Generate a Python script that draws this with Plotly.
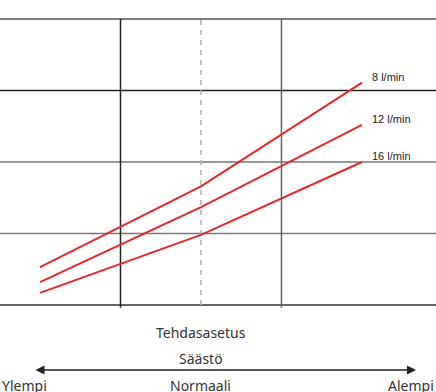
import plotly.graph_objects as go

# Data
x_pos = [0, 2, 4]
series_names = ["8 l/min", "12 l/min", "16 l/min"]
flow_8 = [0.53, 1.66, 3.11]
flow_12 = [0.32, 1.37, 2.52]
flow_16 = [0.17, 0.98, 2.0]
y_grid = [0, 1, 2, 3, 4]
x_grid_solid = [1, 3]
x_grid_dashed = [2]
Y_MAX = 4

RED = "#e8262a"
fig = go.Figure()
for name, vals in zip(series_names, [flow_8, flow_12, flow_16]):
    fig.add_trace(go.Scatter(x=x_pos, y=vals, mode="lines", name=name,
                             line=dict(color=RED, width=2), showlegend=False,
                             hoverinfo="skip"))
    fig.add_annotation(x=x_pos[-1], y=vals[-1], text=name, showarrow=False,
                       xanchor="left", yanchor="bottom", xshift=8, yshift=-2,
                       font=dict(family="Liberation Sans, Arial", size=11, color="#222"))

shapes = []
hcolors = {0: "#333333", 1: "#777777", 2: "#777777", 3: "#222222", 4: "#555555"}
for g in y_grid:
    shapes.append(dict(type="line", xref="paper", yref="paper", x0=0, x1=1,
                       y0=g / Y_MAX, y1=g / Y_MAX,
                       line=dict(color=hcolors[g], width=1.5), layer="below"))
for i, g in enumerate(x_grid_solid):
    shapes.append(dict(type="line", xref="x", yref="paper", x0=g, x1=g, y0=-0.01, y1=1,
                       line=dict(color="#222222" if i == 0 else "#666666", width=1.5), layer="below"))
for g in x_grid_dashed:
    shapes.append(dict(type="line", xref="x", yref="paper", x0=g, x1=g, y0=0, y1=1,
                       line=dict(color="#b0b0b0", width=1.5, dash="5px,5px"), layer="below"))

BFONT = dict(family="Noto Sans, Open Sans", size=14, color="#333")
anns = [
    dict(x=2, y=-0.096, xref="x", yref="paper", text="Tehdasasetus", xanchor="center"),
    dict(x=2, y=-0.187, xref="x", yref="paper", text="Säästö", xanchor="center"),
    dict(x=0, y=-0.281, xref="paper", yref="paper", text="Ylempi", xanchor="left"),
    dict(x=2, y=-0.281, xref="x", yref="paper", text="Normaali", xanchor="center"),
    dict(x=1, y=-0.281, xref="paper", yref="paper", text="Alempi", xanchor="right"),
]
for a in anns:
    fig.add_annotation(**a, showarrow=False, yanchor="middle", font=BFONT)
fig.add_annotation(x=416/436, y=-0.2276, xref="paper", yref="paper", text="", showarrow=True,
                   ax=-382, ay=0, arrowhead=2, arrowsize=1.2, arrowwidth=1.5, arrowcolor="#222",
                   arrowside="end+start", standoff=0, startstandoff=0)

fig.update_layout(
    width=436, height=392,
    margin=dict(l=0, r=0, t=19, b=86.5),
    paper_bgcolor="white", plot_bgcolor="white",
    xaxis=dict(range=[-0.497, 4.92], showgrid=False, zeroline=False, showticklabels=False, visible=False),
    yaxis=dict(range=[0, Y_MAX], showgrid=False, zeroline=False, showticklabels=False, visible=False),
    shapes=shapes,
)
fig.write_html("out.html", config={"displayModeBar": False},
               post_script="document.body.style.margin='0';document.body.style.overflow='hidden';")
